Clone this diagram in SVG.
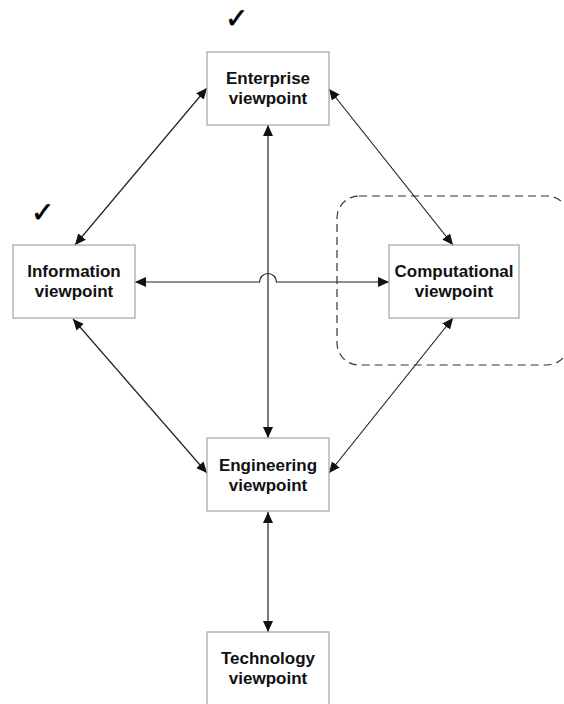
<svg xmlns="http://www.w3.org/2000/svg" width="564" height="704" viewBox="0 0 564 704">
<style>
.box{fill:#fff;stroke:#aaa;stroke-width:1.3}
.lbl{font-family:"Liberation Sans",Arial,sans-serif;font-weight:bold;font-size:17px;fill:#111;text-anchor:middle}
.con{fill:none;stroke:#222;stroke-width:1.2;marker-start:url(#ah);marker-end:url(#ah)}
.chk{font-family:"DejaVu Sans",sans-serif;font-size:28px;fill:#000;stroke:#000;stroke-width:0.6}
</style>
<defs>
<marker id="ah" markerUnits="userSpaceOnUse" markerWidth="12" markerHeight="10" refX="11" refY="5" orient="auto-start-reverse">
<path d="M0,0 L11,5 L0,10 z" fill="#111"/>
</marker>
</defs>
<rect width="564" height="704" fill="#fff"/>
<g id="focus-region">
<rect x="337" y="196" width="232" height="169" rx="22" fill="none" stroke="#333" stroke-width="1.2" stroke-dasharray="8,5"/>
</g>
<g id="connectors">
<path class="con" d="M207,88 L75,245"/>
<path class="con" d="M329,89 L453,245"/>
<path class="con" d="M73,319 L207,473"/>
<path class="con" d="M453,318 L329,473"/>
<path class="con" d="M268,125 L268,438"/>
<path class="con" d="M268,512 L268,632"/>
<path class="con" d="M135,282 H259.5 A8.5,8.5 0 0 1 276.5,282 H389"/>
</g>
<g id="enterprise">
<rect class="box" x="207" y="52" width="122" height="73"/>
<text class="lbl" x="268" y="84">Enterprise</text>
<text class="lbl" x="268" y="104">viewpoint</text>
<text class="chk" x="225" y="28">✓</text>
</g>
<g id="information">
<rect class="box" x="13" y="245" width="122" height="73"/>
<text class="lbl" x="74" y="277">Information</text>
<text class="lbl" x="74" y="297">viewpoint</text>
<text class="chk" x="31" y="222">✓</text>
</g>
<g id="computational">
<rect class="box" x="389" y="245" width="130" height="73"/>
<text class="lbl" x="454" y="277">Computational</text>
<text class="lbl" x="454" y="297">viewpoint</text>
</g>
<g id="engineering">
<rect class="box" x="207" y="438" width="122" height="73"/>
<text class="lbl" x="268" y="471">Engineering</text>
<text class="lbl" x="268" y="491">viewpoint</text>
</g>
<g id="technology">
<rect class="box" x="207" y="632" width="122" height="73"/>
<text class="lbl" x="268" y="664">Technology</text>
<text class="lbl" x="268" y="684">viewpoint</text>
</g>
</svg>
